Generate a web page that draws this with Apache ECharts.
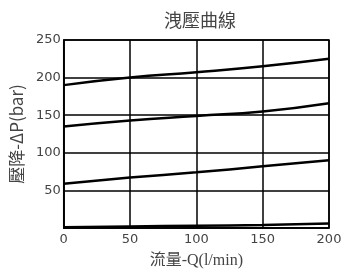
<!DOCTYPE html>
<html><head><meta charset="utf-8">
<script src="https://cdn.jsdelivr.net/npm/echarts@6/dist/echarts.min.js"></script>
<style>html,body{margin:0;padding:0;background:#fff}#c{width:350px;height:278px}</style>
</head><body><div id="c"></div>
<script>
const flow = [0, 50, 100, 150, 200];
const curve1 = [190, 200, 207, 215, 225];
const curve2 = [135, 143, 149, 155, 166];
const curve3 = [59, 67, 74, 82, 90];
const curve4 = [1, 2, 3, 4, 6];
const titleText = '洩壓曲線';
const xName = '流量-Q(l/min)';
const yName = '壓降-ΔP(bar)';

function pairs(v){ return flow.map((x,i)=>[x,v[i]]); }
const chart = echarts.init(document.getElementById('c'));
const lineStyle = {color:'#000', width:2.5};
chart.setOption({
  animation:false,
  title:{text:titleText,left:195,textAlign:'center',top:6,textStyle:{fontFamily:'Noto Sans CJK TC',fontWeight:'normal',fontSize:18,color:'#444'}},
  grid:{left:62,right:21,top:40,bottom:50,containLabel:false,show:true,borderColor:'#000',borderWidth:1.5},
  xAxis:{type:'value',min:0,max:200,interval:50,
    name:xName,nameLocation:'middle',nameGap:25,
    nameTextStyle:{fontFamily:'Liberation Serif, Noto Sans CJK TC',fontSize:16,color:'#444'},
    axisLine:{lineStyle:{color:'#000',width:1.5}},axisTick:{show:false},
    axisLabel:{fontFamily:'DejaVu Sans',fontSize:13,color:'#444',margin:5},
    splitLine:{lineStyle:{color:'#000',width:1.5}}},
  yAxis:{type:'value',min:0,max:250,interval:50,
    name:yName,nameLocation:'middle',nameGap:36,
    nameTextStyle:{fontFamily:'Noto Sans CJK TC',fontSize:17,color:'#444'},
    axisLine:{show:true,lineStyle:{color:'#000',width:1.5}},axisTick:{show:false},
    axisLabel:{fontFamily:'DejaVu Sans',fontSize:13,color:'#444',margin:3,
      formatter:v=>v===0?'':String(v)},
    splitLine:{lineStyle:{color:'#000',width:1.5}}},
  series:[curve1,curve2,curve3,curve4].map(v=>({type:'line',data:pairs(v),smooth:true,showSymbol:false,lineStyle}))
});
</script></body></html>
